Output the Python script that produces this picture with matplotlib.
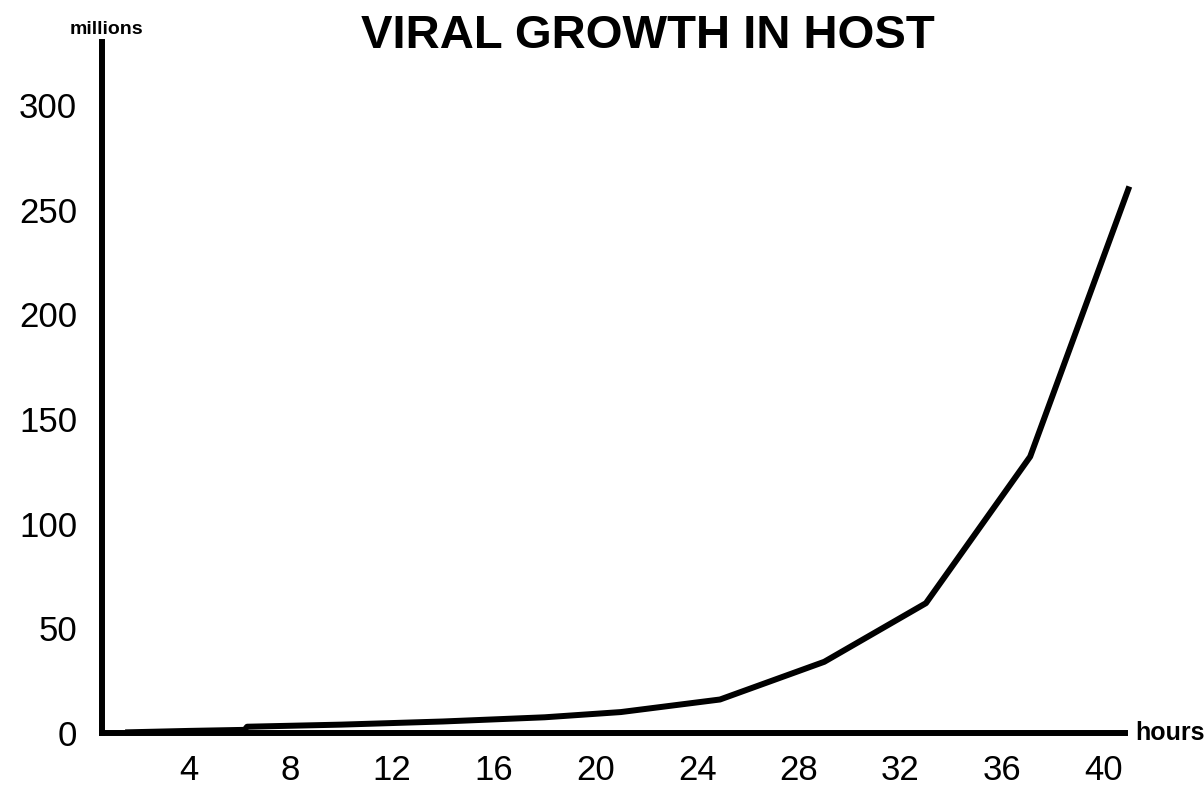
import matplotlib
matplotlib.use("Agg")
import matplotlib.pyplot as plt

# ---- data ----
hours = [1.5, 4.0, 6.2, 6.3, 10.0, 14.0, 18.0, 21.0, 24.9, 29.0, 33.0, 37.1, 41.0]
virus_millions = [0.3, 1.0, 1.5, 3.0, 4.0, 5.5, 7.5, 10.0, 16.0, 34.0, 62.0, 132.0, 261.0]
x_ticks = [4, 8, 12, 16, 20, 24, 28, 32, 36, 40]
y_ticks = [0, 50, 100, 150, 200, 250, 300]

title = "VIRAL GROWTH IN HOST"
y_unit = "millions"
x_unit = "hours"

plt.rcParams['font.family'] = ['Liberation Sans', 'DejaVu Sans']

fig = plt.figure(figsize=(12.04, 7.90), dpi=100)
ax = fig.add_axes([102 / 1204, 57 / 790, (1125 - 102) / 1204, (733 - 42) / 790])

ax.plot(hours, virus_millions, color='black', lw=4.3, solid_capstyle='butt',
        solid_joinstyle='round', clip_on=False, zorder=3)

ax.set_xlim(0.59, 40.83)
ax.set_ylim(0, 330)

for side in ['top', 'right']:
    ax.spines[side].set_visible(False)
for side in ['left', 'bottom']:
    ax.spines[side].set_linewidth(4.3)
    ax.spines[side].set_color('black')
    ax.spines[side].set_capstyle('projecting')

ax.set_xticks(x_ticks)
ax.set_xticklabels([str(t) for t in x_ticks])
ax.set_yticks(y_ticks)
ax.set_yticklabels([str(t) for t in y_ticks])
ax.tick_params(axis='both', length=0, labelsize=25, colors='black')
ax.tick_params(axis='y', pad=18)
ax.tick_params(axis='x', pad=15)

fig.text(648 / 1204, 1 - 36 / 790, title, ha='center', va='center',
         fontsize=34, fontweight='bold')
fig.text(106 / 1204, 1 - 30 / 790, y_unit, ha='center', va='center',
         fontsize=14, fontweight='bold')
fig.text(1135 / 1204, 1 - 733 / 790, x_unit, ha='left', va='center',
         fontsize=18, fontweight='bold')

fig.savefig('out.png', dpi=100, facecolor='white')
